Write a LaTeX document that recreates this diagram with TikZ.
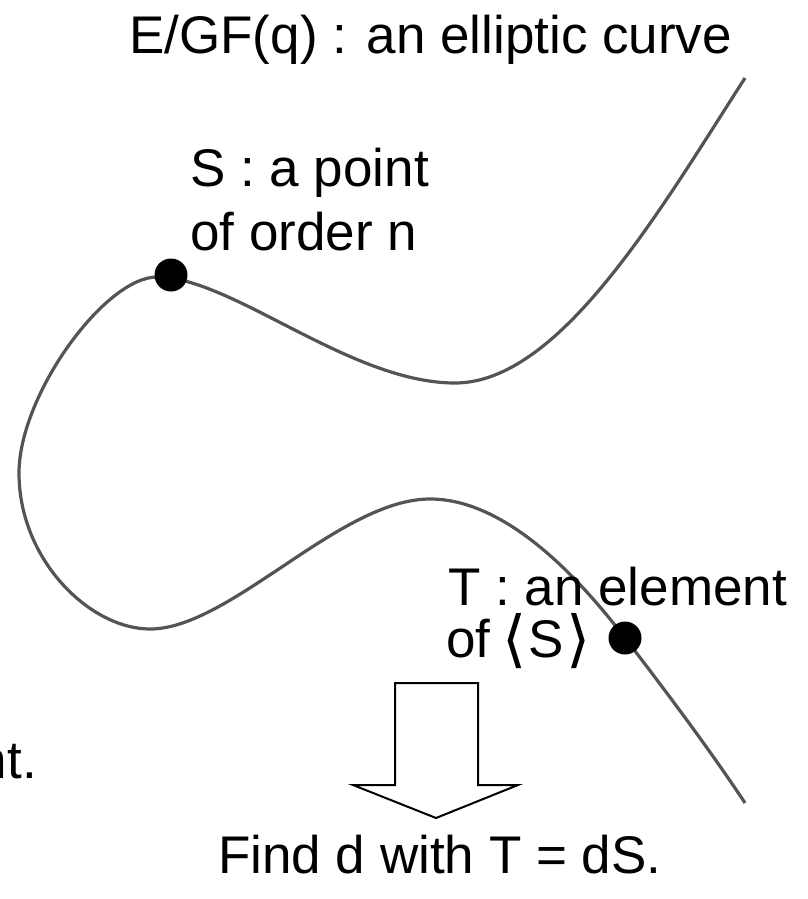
\documentclass[tikz,border=0pt]{standalone}
\usepackage{fontspec}
\setmainfont{Liberation Sans}
\newfontfamily\djv{DejaVu Sans}
\newcommand{\bigbr}[1]{\raisebox{-3pt}{\djv\fontsize{62}{64}\selectfont #1}}
\begin{document}
\begin{tikzpicture}[x=1pt,y=-1pt,
  curveline/.style={draw=black!67,line width=3.2pt},
  ptdot/.style={circle,fill=black,inner sep=0pt,minimum size=33pt},
  lbl/.style={anchor=base west,inner sep=0pt,font=\fontsize{53}{60}\selectfont},
  blockarrow/.style={draw=black,line width=2pt,fill=white,line join=miter}]
\useasboundingbox (0,0) rectangle (807,899);
\clip (0,0) rectangle (807,899);
% curve key points
\coordinate (p0) at (745,78);
\coordinate (m1) at (455,383);
\coordinate (pk) at (157,277);
\coordinate (lf) at (19,473);
\coordinate (bm) at (150,629);
\coordinate (lm) at (430,499);
\coordinate (tp) at (625,638);
\coordinate (p1) at (745,803);
\draw[curveline] (p0) .. controls (660,210) and (560,383) .. (m1)
  .. controls (350,383) and (232,277) .. (pk)
  .. controls (105,277) and (19,395) .. (lf)
  .. controls (19,560) and (90,629) .. (bm)
  .. controls (230,629) and (340,499) .. (lm)
  .. controls (500,499) and (570,566) .. (tp)
  .. controls (665,690) and (710,750) .. (p1);
\node[ptdot] (S) at (171,275) {};
\node[ptdot] (T) at (tp) {};
% labels
\node[lbl] (title) at (129,54) {E/GF(q) : an elliptic curve};
\node[lbl] (s1) at (190,186) {S : a point};
\node[lbl] (s2) at (190,250) {of order n};
\node[lbl] (t1) at (448,605) {T : an element};
\node[lbl] (t2) at (446,657) {of\hspace{12pt}\bigbr{⟨}\hspace{2pt}S\hspace{3pt}\bigbr{⟩}};
\node[lbl] (find) at (218,873) {Find d with T = dS.};
\node[lbl,anchor=base east] (nt) at (37,778) {nt.};
% block arrow
\coordinate (a1) at (395,683);
\coordinate (a2) at (478,683);
\coordinate (a3) at (478,785);
\coordinate (a4) at (518,785);
\coordinate (a5) at (436,818);
\coordinate (a6) at (353,785);
\coordinate (a7) at (395,785);
\draw[blockarrow] (a1) -- (a2) -- (a3) -- (a4) -- (a5) -- (a6) -- (a7) -- cycle;
\end{tikzpicture}
\end{document}
